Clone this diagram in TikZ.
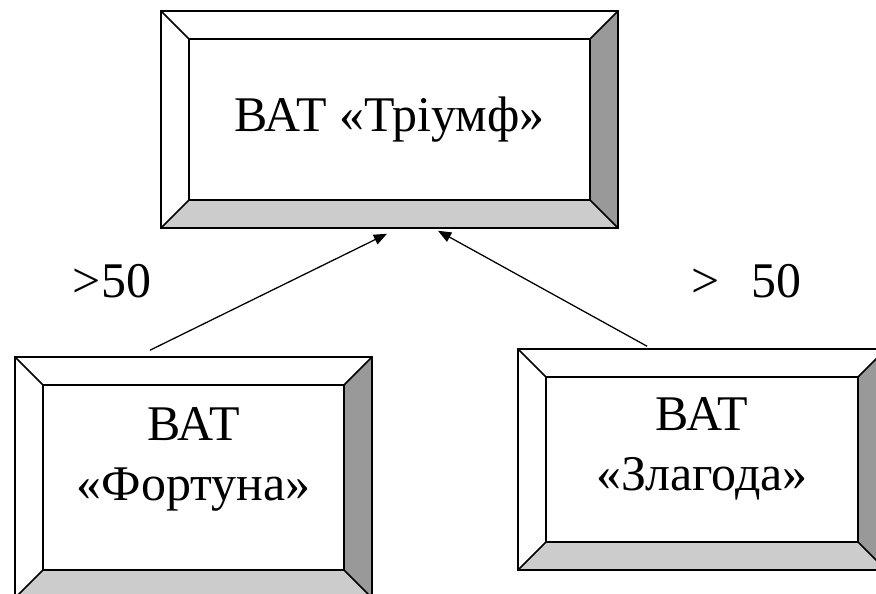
\documentclass[tikz,border=0pt]{standalone}
\usepackage{fontspec}
\setmainfont{Liberation Serif}
\usetikzlibrary{arrows.meta,positioning,calc}

% width of the bevelled frame
\newcommand{\bevdepth}{0.7cm}

\tikzset{
  bevelbox/.style={draw,rectangle,line width=1.1pt,fill=white,inner sep=0pt,
    font=\fontsize{35.5}{42.6}\selectfont,align=center,
    path picture={
      \coordinate (bsw) at (path picture bounding box.south west);
      \coordinate (bne) at (path picture bounding box.north east);
      \coordinate (bnw) at (bsw|-bne);
      \coordinate (bse) at (bne|-bsw);
      \coordinate (isw) at ($(bsw)+(\bevdepth,\bevdepth)$);
      \coordinate (ine) at ($(bne)-(\bevdepth,\bevdepth)$);
      \coordinate (inw) at (isw|-ine);
      \coordinate (ise) at (ine|-isw);
      \fill[black!20] (bsw)--(bse)--(ise)--(isw)--cycle;
      \fill[black!40] (bse)--(bne)--(ine)--(ise)--cycle;
      \draw[line width=1.1pt] (isw) rectangle (ine);
      \draw[line width=1.1pt] (bsw)--(isw) (bse)--(ise) (bne)--(ine) (bnw)--(inw);
    }},
  boxtext/.style={font=\fontsize{35.5}{42.6}\selectfont,align=center,inner sep=0pt},
  link/.style={-{Triangle[length=0.33cm,width=0.26cm]},line width=0.9pt}
}

\begin{document}
\begin{tikzpicture}
  \clip (0,0) rectangle (21.9,-14.85);

  \node[bevelbox,minimum width=11.425cm,minimum height=5.425cm] (triumf) at (9.7375,-2.9875) {ВАТ «Тріумф»};
  \node[bevelbox,minimum width=8.925cm,minimum height=6.025cm] (fortuna) at (4.8375,-11.9375) {};
  \node[bevelbox,minimum width=9.2cm,minimum height=5.525cm] (zlahoda) at (17.55,-11.4875) {};

  \node[boxtext] (fortunatext) at ([yshift=0.46cm]fortuna.center) {ВАТ\\«Фортуна»};
  \node[boxtext] (zlahodatext) at ([yshift=0.275cm]zlahoda.center) {ВАТ\\«Злагода»};

  \draw[link] ([xshift=-1.0875cm,yshift=0.15cm]fortuna.north) -- ([xshift=-0.0625cm,yshift=-0.125cm]triumf.south);
  \draw[link] ([xshift=-1.375cm,yshift=0.05cm]zlahoda.north) -- ([xshift=1.2125cm,yshift=-0.05cm]triumf.south);

  \node[boxtext] (leftshare) at (2.8,-7.025) {>50};
  \node[boxtext] (rightshare) at (18.65,-7.025) {>\hspace{0.64em}50};
\end{tikzpicture}
\end{document}
